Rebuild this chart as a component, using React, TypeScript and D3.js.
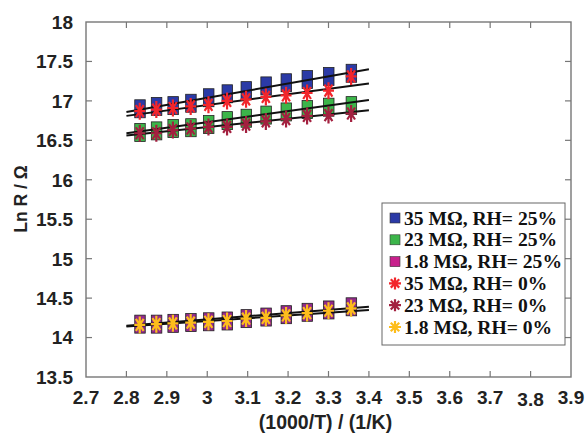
import * as d3 from 'd3'

// 1000/T for T = 353 ... 298 K
const invT = [2.833, 2.874, 2.915, 2.959, 3.003, 3.049, 3.096, 3.145, 3.195, 3.247, 3.300, 3.356]

const r35wet = [16.90, 16.93, 16.94, 16.97, 17.04, 17.09, 17.13, 17.19, 17.23, 17.27, 17.31, 17.35]
const r23wet = [16.60, 16.62, 16.65, 16.66, 16.70, 16.75, 16.78, 16.82, 16.86, 16.89, 16.92, 16.94]
const r18wet = [14.17, 14.17, 14.18, 14.19, 14.20, 14.21, 14.24, 14.26, 14.29, 14.32, 14.35, 14.39]
const r35dry = [16.87, 16.89, 16.91, 16.93, 16.95, 17.00, 17.02, 17.05, 17.07, 17.10, 17.13, 17.31]
const r23dry = [16.59, 16.59, 16.63, 16.65, 16.67, 16.67, 16.70, 16.74, 16.77, 16.81, 16.82, 16.84]
const r18dry = [14.16, 14.17, 14.18, 14.19, 14.20, 14.21, 14.24, 14.25, 14.28, 14.31, 14.34, 14.37]

// linear fits, value at x = 2.8 and x = 3.4
const fitX = [2.8, 3.4]
const fits = [
    [16.86, 17.40],
    [16.81, 17.22],
    [16.59, 17.01],
    [16.56, 16.88],
    [14.15, 14.39],
    [14.14, 14.35],
]

const xTicks = [2.7, 2.8, 2.9, 3.0, 3.1, 3.2, 3.3, 3.4, 3.5, 3.6, 3.7, 3.8, 3.9]
const yTicks = [13.5, 14, 14.5, 15, 15.5, 16, 16.5, 17, 17.5, 18]

const legendLabels = [
    '35 MΩ, RH= 25%',
    '23 MΩ, RH= 25%',
    '1.8 MΩ, RH= 25%',
    '35 MΩ, RH= 0%',
    '23 MΩ, RH= 0%',
    '1.8 MΩ, RH= 0%',
]

const squareSeries = [
    {values: r35wet, color: '#2b3aa6'},
    {values: r23wet, color: '#3cb54a'},
    {values: r18wet, color: '#93298c'},
]
const starSeries = [
    {values: r35dry, color: '#f2262b'},
    {values: r23dry, color: '#a3203f'},
    {values: r18dry, color: '#fdbd1c'},
]
const legendColors = ['#2b3aa6', '#3cb54a', '#c8208c', '#f2262b', '#a3203f', '#fdbd1c']

const W = 587
const H = 434
const left = 86, right = 571, top = 22, bottom = 377

function starPath(cx: number, cy: number, rx: number, ry: number) {
    let p = ''
    for (let k = 0; k < 4; k++) {
        const a = (k * Math.PI) / 4
        const dx = Math.cos(a) * rx, dy = Math.sin(a) * ry
        p += `M${cx - dx},${cy - dy}L${cx + dx},${cy + dy}`
    }
    return p
}

export default function App() {
    const x = d3.scaleLinear().domain([2.7, 3.9]).range([left, right])
    const y = d3.scaleLinear().domain([13.5, 18]).range([bottom, top])
    const line = d3.line<number>().x((_, i) => x(fitX[i])).y(d => y(d))

    const tickFont = {fontFamily: '"Liberation Sans", Arial, sans-serif', fontWeight: 'bold' as const, fontSize: 19, fill: '#222'}

    return (
        <svg width={W} height={H} style={{position: 'absolute', left: 0, top: 0, background: 'white'}}>
            {/* ticks */}
            {xTicks.slice(1, -1).map(t => (
                <g key={'xt' + t} stroke="#777" strokeWidth={1.2}>
                    <line x1={x(t)} x2={x(t)} y1={bottom} y2={bottom - 6} />
                    <line x1={x(t)} x2={x(t)} y1={top} y2={top + 6} />
                </g>
            ))}
            {yTicks.slice(1, -1).map(t => (
                <g key={'yt' + t} stroke="#777" strokeWidth={1.2}>
                    <line x1={left} x2={left + 6} y1={y(t)} y2={y(t)} />
                    <line x1={right} x2={right - 6} y1={y(t)} y2={y(t)} />
                </g>
            ))}
            <rect x={left} y={top} width={right - left} height={bottom - top} fill="none" stroke="#777" strokeWidth={1.4} />

            {/* tick labels */}
            {xTicks.map(t => (
                <text key={'xl' + t} x={x(t)} y={t === 3.8 ? 406 : 404} textAnchor="middle" style={tickFont}>
                    {d3.format('~g')(t)}
                </text>
            ))}
            {yTicks.map(t => (
                <text key={'yl' + t} x={73} y={y(t)} dy="0.36em" textAnchor="end" style={tickFont}>
                    {d3.format('~g')(t)}
                </text>
            ))}

            {/* axis titles */}
            <text x={(left + right) / 2 - 3} y={429} textAnchor="middle" style={{...tickFont, fontSize: 19.5}}>
                (1000/T) / (1/K)
            </text>
            <text transform={`translate(27,199) rotate(-90)`} textAnchor="middle" style={{...tickFont, fontSize: 17.5}}>
                Ln R / Ω
            </text>

            {/* squares */}
            {squareSeries.map((s, si) => (
                <g key={'sq' + si}>
                    {s.values.map((v, i) => (
                        <rect key={i} x={x(invT[i]) - 5} y={y(v) - 9} width={10.5} height={18}
                              fill={s.color} stroke="#222" strokeWidth={0.8} />
                    ))}
                </g>
            ))}

            {/* fit lines */}
            {fits.map((f, i) => (
                <path key={'fit' + i} d={line(f) || ''} fill="none" stroke="#111" strokeWidth={2} />
            ))}

            {/* stars */}
            {starSeries.map((s, si) => (
                <g key={'st' + si}>
                    {s.values.map((v, i) => (
                        <path key={i} d={starPath(x(invT[i]), y(v), 5.5, 8.5)} stroke={s.color} strokeWidth={2.2} fill="none" />
                    ))}
                </g>
            ))}

            {/* legend */}
            <rect x={382} y={203} width={183} height={142} fill="white" stroke="#666" strokeWidth={1} />
            {legendLabels.map((lab, i) => {
                const cy = 218 + i * 21.8
                return (
                    <g key={'lg' + i}>
                        {i < 3 ? (
                            <rect x={390} y={cy - 5} width={10} height={10} fill={legendColors[i]} stroke="#333" strokeWidth={0.6} />
                        ) : (
                            <path d={starPath(395, cy, 6, 6)} stroke={legendColors[i]} strokeWidth={2.2} fill="none" />
                        )}
                        <text x={404} y={cy} dy="0.34em"
                              style={{fontFamily: '"Liberation Serif", "Times New Roman", serif', fontWeight: 'bold', fontSize: 19.6, fill: '#111'}}>
                            {lab}
                        </text>
                    </g>
                )
            })}
        </svg>
    )
}
